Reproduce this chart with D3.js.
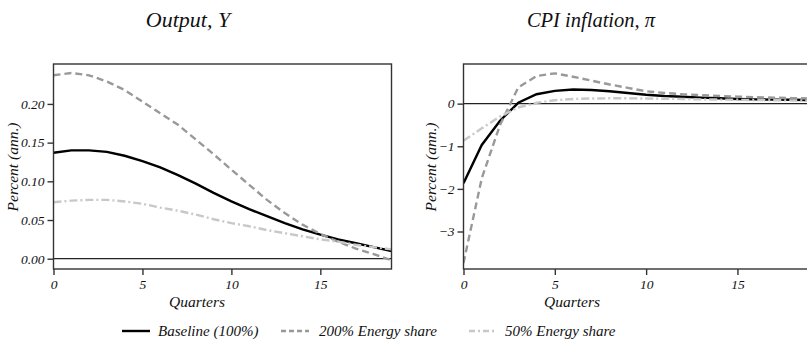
<!DOCTYPE html>
<html><head><meta charset="utf-8">
<script src="https://cdn.jsdelivr.net/npm/d3@7"></script>
<style>
body{margin:0;background:#fff;}
svg text{font-family:"Liberation Serif",serif;font-style:italic;fill:#111;}
</style></head>
<body><svg id="c" width="807" height="349"></svg>
<script>
const quarters = d3.range(0, 20);
const seriesNames = ["Baseline (100%)", "200% Energy share", "50% Energy share"];
const outputBaseline = [0.137,0.140,0.140,0.138,0.133,0.126,0.118,0.108,0.097,0.085,0.074,0.064,0.055,0.046,0.038,0.031,0.025,0.020,0.015,0.010];
const output200 = [0.237,0.240,0.237,0.229,0.218,0.203,0.188,0.173,0.154,0.135,0.115,0.0955,0.076,0.059,0.044,0.032,0.022,0.013,0.006,-0.002];
const output50 = [0.073,0.075,0.076,0.076,0.074,0.071,0.066,0.062,0.057,0.051,0.046,0.042,0.037,0.033,0.029,0.025,0.022,0.018,0.015,0.012];
const cpiBaseline = [-1.87,-0.97,-0.40,0.02,0.22,0.30,0.33,0.32,0.29,0.25,0.21,0.18,0.16,0.14,0.125,0.11,0.10,0.095,0.09,0.085];
const cpi200 = [-3.74,-1.75,-0.50,0.38,0.65,0.71,0.63,0.54,0.45,0.37,0.29,0.25,0.22,0.20,0.18,0.165,0.15,0.14,0.13,0.12];
const cpi50 = [-0.87,-0.58,-0.30,-0.09,0.02,0.08,0.11,0.12,0.125,0.125,0.12,0.115,0.11,0.10,0.095,0.09,0.085,0.08,0.075,0.07];
const xTicks = [0,5,10,15];
const outputTicks = [0,0.05,0.10,0.15,0.20];
const cpiTicks = [-3,-2,-1,0];

const styles = [
  {stroke:"#000", dash:null, width:2.4},
  {stroke:"#999", dash:"7,4", width:2.4},
  {stroke:"#c8c8c8", dash:"8,3,2,3", width:2.4}
];

const svg = d3.select("#c");
const LABEL_FONT = '"DejaVu Serif",serif';
const TICK_FONT = '"Liberation Serif",serif';

function panel(o){
  const x = d3.scaleLinear().domain([0,19]).range([o.x0,o.x1]);
  const y = d3.scaleLinear().domain(o.yDomain).range([269,64]);
  const g = svg.append("g");
  const cid = "clip"+o.id;
  svg.append("clipPath").attr("id",cid).append("rect")
    .attr("x",o.x0).attr("y",64).attr("width",o.x1-o.x0).attr("height",205);
  g.append("line").attr("x1",o.x0).attr("x2",o.x1).attr("y1",y(0)).attr("y2",y(0))
    .attr("stroke","#222").attr("stroke-width",1.2);
  const line = d3.line().x((d,i)=>x(quarters[i])).y(d=>y(d));
  o.series.forEach((s,k)=>{
    g.append("path").attr("d",line(s)).attr("fill","none")
      .attr("clip-path",`url(#${cid})`)
      .attr("stroke",styles[k].stroke).attr("stroke-width",styles[k].width)
      .attr("stroke-dasharray",styles[k].dash);
  });
  g.append("rect").attr("x",o.x0).attr("y",64).attr("width",o.x1-o.x0).attr("height",205)
    .attr("fill","none").attr("stroke","#333").attr("stroke-width",1.4);
  const ya = d3.axisLeft(y).tickValues(o.yTicks).tickFormat(o.fmt).tickSize(6).tickPadding(3);
  const yg = g.append("g").attr("transform",`translate(${o.x0},0)`).call(ya);
  yg.select(".domain").remove();
  yg.selectAll("line").attr("stroke","#333").attr("stroke-width",1.4);
  yg.selectAll("text").attr("font-size",13.5).attr("font-family",TICK_FONT).attr("font-style","italic").attr("fill","#111");
  const xa = d3.axisBottom(x).tickValues(xTicks).tickFormat(d3.format("d")).tickSize(6).tickPadding(4);
  const xg = g.append("g").attr("transform",`translate(0,269)`).call(xa);
  xg.select(".domain").remove();
  xg.selectAll("line").attr("stroke","#333").attr("stroke-width",1.4);
  xg.selectAll("text").attr("font-size",13.5).attr("font-family",TICK_FONT).attr("font-style","italic").attr("fill","#111");
  svg.append("text").attr("x",o.titleX).attr("y",27).attr("text-anchor","middle")
    .attr("font-family",LABEL_FONT).attr("font-size",o.titleSize).text(o.title);
  svg.append("text").attr("x",o.qX).attr("y",307).attr("text-anchor","middle")
    .attr("font-family",LABEL_FONT).attr("font-size",15.5).text("Quarters");
  svg.append("text").attr("transform",`translate(${o.ylabX},167) rotate(-90)`)
    .attr("text-anchor","middle").attr("dy","0.35em")
    .attr("font-family",LABEL_FONT).attr("font-size",15.5).text("Percent (ann.)");
}

panel({id:"L", x0:53.5, x1:391.5, yDomain:[-0.0133,0.2516], yTicks:outputTicks, fmt:d3.format(".2f"),
  series:[outputBaseline,output200,output50], title:"Output, Y", titleSize:22, titleX:188, qX:197, ylabX:13});
panel({id:"R", x0:463.5, x1:810.5, yDomain:[-3.88,0.93], yTicks:cpiTicks, fmt:d3.format("d"),
  series:[cpiBaseline,cpi200,cpi50], title:"CPI inflation, π", titleSize:20.5, titleX:591, qX:572, ylabX:431});

const legendPos = [{lx:122, tx:158},{lx:281, tx:319},{lx:469, tx:505}];
const lg = svg.append("g");
seriesNames.forEach((n,k)=>{
  const p = legendPos[k];
  lg.append("line").attr("x1",p.lx).attr("x2",p.lx+28).attr("y1",331).attr("y2",331)
    .attr("stroke",styles[k].stroke).attr("stroke-width",styles[k].width)
    .attr("stroke-dasharray",k===1?"5,3":(k===2?"6,3,2,3":null));
  lg.append("text").attr("x",p.tx).attr("y",336).attr("font-family",LABEL_FONT)
    .attr("font-size",15).text(n);
});
</script></body></html>
